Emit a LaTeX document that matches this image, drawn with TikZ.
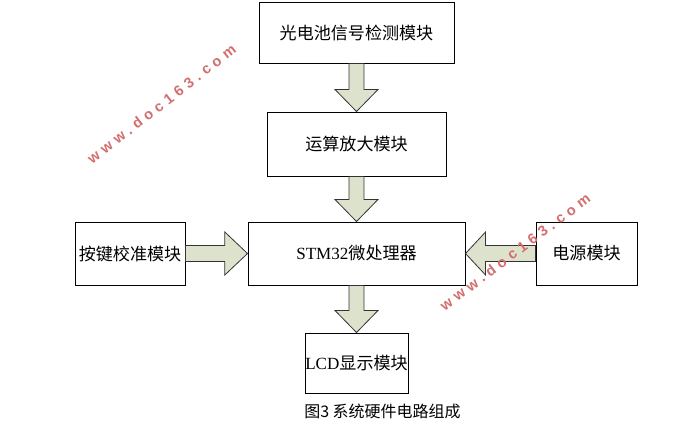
\documentclass[tikz,border=0pt]{standalone}
\usepackage{fontspec}
\usetikzlibrary{calc}
\newfontfamily\cjk{Noto Sans CJK SC}
\newfontfamily\latf{Liberation Serif}
\newfontfamily\wmfont[LetterSpace=32]{Liberation Sans}
\definecolor{arrowfill}{RGB}{221,226,204}
\definecolor{wmred}{RGB}{212,110,110}
\tikzset{
  box/.style={draw=black, line width=0.75pt, fill=white, inner sep=0pt, font=\cjk\fontsize{12.8}{14}\selectfont},
  fat/.style={draw=black!80, line width=0.6pt, fill=arrowfill, line join=miter},
  wm/.style={text=wmred, inner sep=0pt, font=\wmfont\bfseries\fontsize{11}{12}\selectfont},
}
% vertical fat arrow from #1 (south) to #2 (north)
\newcommand\vfat[2]{%
  \draw[fat] let \p1=(#1.south), \p2=(#2.north) in
    (\x1-5.6pt,\y1) -- (\x1+5.6pt,\y1) -- (\x1+5.6pt,\y2+16.5pt) -- (\x1+16.1pt,\y2+16.5pt)
    -- (\x1,\y2) -- (\x1-16.1pt,\y2+16.5pt) -- (\x1-5.6pt,\y2+16.5pt) -- cycle;}
% horizontal fat arrow, from #1 east to #2 west (rightwards)
\newcommand\rfat[2]{%
  \draw[fat] let \p1=(#1.east), \p2=(#2.west) in
    (\x1,\y2+6pt) -- (\x2-17pt,\y2+6pt) -- (\x2-17pt,\y2+16.1pt) -- (\x2,\y2)
    -- (\x2-17pt,\y2-16.1pt) -- (\x2-17pt,\y2-6pt) -- (\x1,\y2-6pt) -- cycle;}
% horizontal fat arrow, from #1 west to #2 east (leftwards)
\newcommand\lfat[2]{%
  \draw[fat] let \p1=(#1.west), \p2=(#2.east) in
    (\x1,\y2+6pt) -- (\x2+15pt,\y2+6pt) -- (\x2+15pt,\y2+16.1pt) -- (\x2,\y2)
    -- (\x2+15pt,\y2-16.1pt) -- (\x2+15pt,\y2-6pt) -- (\x1,\y2-6pt) -- cycle;}
\begin{document}
\begin{tikzpicture}[x=0.75pt, y=-0.75pt]
\useasboundingbox (0,0) rectangle (699,430);
\fill[white] (0,0) rectangle (699,430);

\node[box, minimum width=146.25pt, minimum height=45.75pt] (det) at (356.5,32.5) {光电池信号检测模块};
\node[box, minimum width=134.25pt, minimum height=48pt] (amp) at (356.5,144) {运算放大模块};
\node[box, minimum width=162.75pt, minimum height=47.25pt] (mcu) at (356.5,253.5) {{\latf STM32}微处理器};
\node[box, minimum width=82.5pt, minimum height=47.25pt] (key) at (130,253.5) {按键校准模块};
\node[box, minimum width=75.75pt, minimum height=47.25pt] (pwr) at (586.5,253.5) {电源模块};
\node[box, minimum width=77.25pt, minimum height=45pt] (lcd) at (356.5,363) {{\latf LCD}显示模块};

\node[font=\cjk\fontsize{12}{13}\selectfont] (cap) at (382.5,411) {图3 系统硬件电路组成};

\vfat{det}{amp}
\vfat{amp}{mcu}
\vfat{mcu}{lcd}
\rfat{key}{mcu}
\lfat{pwr}{mcu}

\node[wm, rotate=38] (wm1) at (161.5,104) {www.doc163.com};
\node[wm, rotate=37] (wm2) at (515,252) {www.doc163.com};
\end{tikzpicture}
\end{document}
